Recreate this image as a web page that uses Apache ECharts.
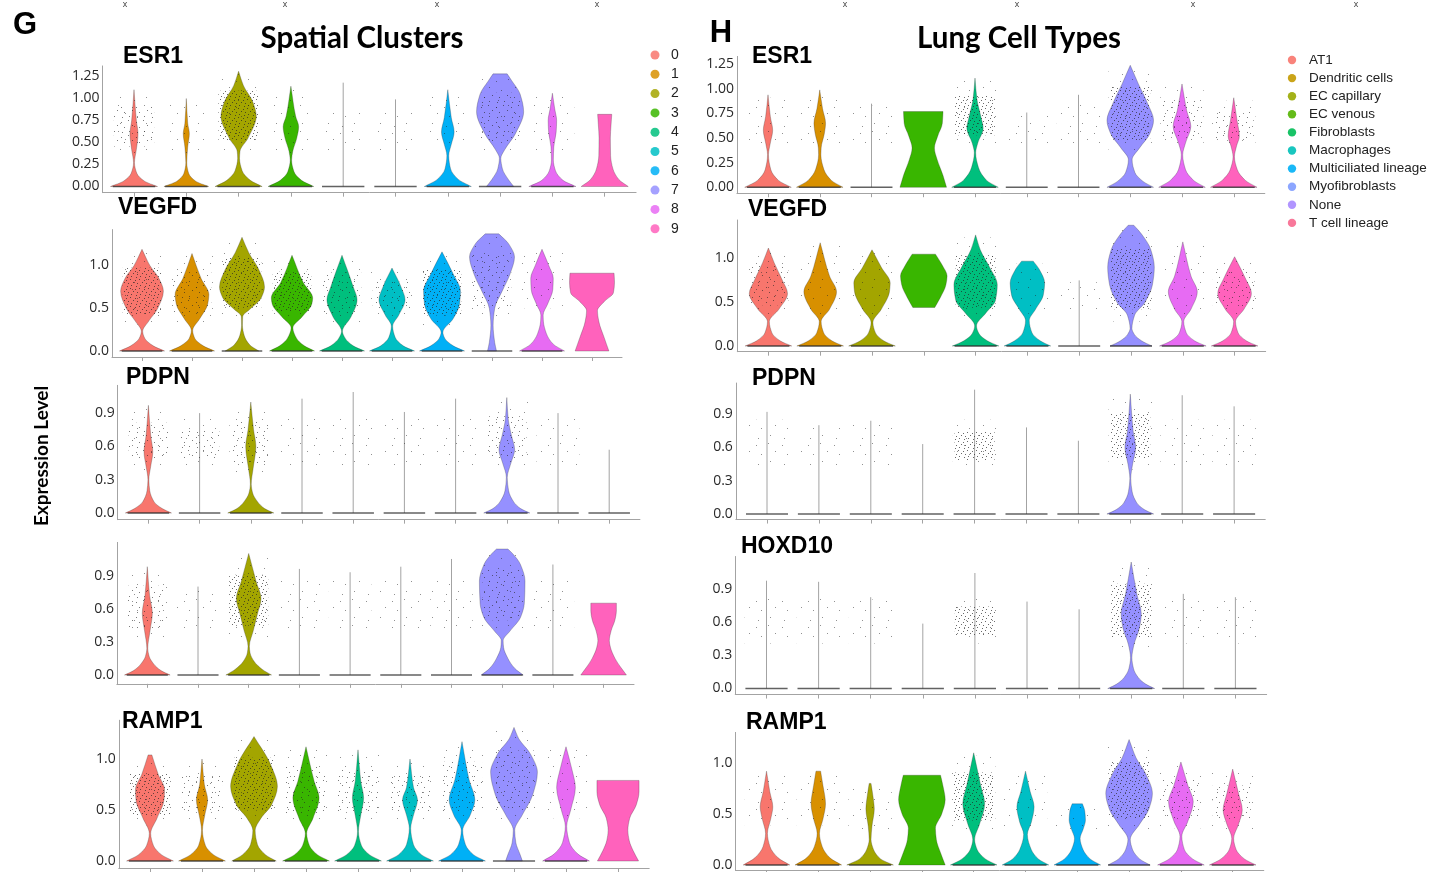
<!DOCTYPE html>
<html>
<head>
<meta charset="utf-8">
<title>Violin plots</title>
<script src="https://cdn.jsdelivr.net/npm/echarts@6.0.0/dist/echarts.min.js"></script>
<style>
  html, body { margin: 0; padding: 0; background: #fff; }
  #chart { width: 1434px; height: 872px; }
</style>
</head>
<body>
<div id="chart"></div>
<script>
// groups
const CLUSTERS = ['0', '1', '2', '3', '4', '5', '6', '7', '8', '9'];
const CELL_TYPES = ['AT1', 'Dendritic cells', 'EC capillary', 'EC venous', 'Fibroblasts',
  'Macrophages', 'Multiciliated lineage', 'Myofibroblasts', 'None', 'T cell lineage'];
const VIOLIN_COLORS = ['#F8766D', '#D89000', '#A3A500', '#39B600', '#00BF7D',
  '#00BFC4', '#00B0F6', '#9590FF', '#E76BF3', '#FF62BC'];
const CELL_LEGEND_COLORS = ['#F8766D', '#C49A00', '#99A800', '#53B400', '#00BC56',
  '#00C0B8', '#00B0F6', '#7F9CFF', '#A98AFF', '#F7698F'];

// y-axis ticks
const TICKS_QUARTER = [0, 0.25, 0.5, 0.75, 1, 1.25];
const TICKS_HALF = [0, 0.5, 1];
const TICKS_03 = [0, 0.3, 0.6, 0.9];

// violins: knots [expression, relative half width] from bottom to top,
// or a single number = top of a violin that is only a bare line
const G_ESR1 = [
  [[0, 1], [0.06, 0.45], [0.15, 0.12], [0.27, 0.02], [0.42, 0.1], [0.6, 0.17], [0.75, 0.1], [1.1, 0]],
  [[0, 0.95], [0.06, 0.4], [0.15, 0.1], [0.27, 0.02], [0.45, 0.06], [0.6, 0.13], [0.72, 0.06], [1.0, 0]],
  [[0, 1], [0.07, 0.5], [0.18, 0.15], [0.32, 0.04], [0.4, 0.06], [0.55, 0.4], [0.8, 0.75], [0.95, 0.62], [1.15, 0.2], [1.31, 0]],
  [[0, 0.97], [0.07, 0.45], [0.17, 0.13], [0.3, 0.03], [0.4, 0.08], [0.55, 0.25], [0.68, 0.33], [0.8, 0.2], [1.14, 0]],
  1.18,
  0.99,
  [[0, 1], [0.08, 0.45], [0.2, 0.12], [0.35, 0.04], [0.48, 0.15], [0.62, 0.27], [0.78, 0.15], [1.1, 0]],
  [[0, 0.58], [0.08, 0.35], [0.2, 0.1], [0.32, 0.03], [0.42, 0.2], [0.6, 0.65], [0.85, 1], [1.05, 0.85], [1.2, 0.5], [1.28, 0.3]],
  [[0, 1], [0.07, 0.45], [0.18, 0.13], [0.3, 0.04], [0.45, 0.06], [0.62, 0.16], [0.75, 0.18], [0.88, 0.1], [1.06, 0]],
  [[0, 1], [0.08, 0.6], [0.2, 0.35], [0.35, 0.25], [0.55, 0.24], [0.7, 0.27], [0.82, 0.3]]
];
const G_ESR1_DOTS = [2, 1, 3, 1, 1, 1, 1, 2, 1, 0];

const G_VEGFD = [
  [[0, 1], [0.06, 0.5], [0.15, 0.12], [0.23, 0.03], [0.35, 0.3], [0.5, 0.7], [0.7, 0.95], [0.85, 0.75], [1.0, 0.35], [1.19, 0]],
  [[0, 1], [0.06, 0.5], [0.15, 0.12], [0.24, 0.03], [0.38, 0.35], [0.55, 0.7], [0.66, 0.75], [0.85, 0.4], [1.14, 0]],
  [[0, 0.75], [0.07, 0.35], [0.18, 0.1], [0.3, 0.02], [0.4, 0.03], [0.5, 0.4], [0.62, 0.85], [0.75, 1], [0.95, 0.75], [1.15, 0.3], [1.33, 0]],
  [[0, 1], [0.06, 0.55], [0.15, 0.2], [0.27, 0.04], [0.4, 0.45], [0.55, 0.88], [0.62, 0.92], [0.8, 0.5], [1.12, 0]],
  [[0, 1], [0.06, 0.5], [0.15, 0.14], [0.23, 0.02], [0.4, 0.4], [0.6, 0.67], [0.75, 0.5], [1.12, 0]],
  [[0, 1], [0.06, 0.5], [0.16, 0.14], [0.29, 0.03], [0.42, 0.3], [0.6, 0.58], [0.75, 0.4], [0.97, 0]],
  [[0, 1], [0.06, 0.5], [0.15, 0.12], [0.22, 0.04], [0.38, 0.5], [0.55, 0.78], [0.7, 0.82], [0.9, 0.5], [1.16, 0]],
  [[0, 0.2], [0.1, 0.12], [0.3, 0.05], [0.5, 0.12], [0.7, 0.45], [0.9, 0.8], [1.1, 1], [1.25, 0.75], [1.37, 0.3]],
  [[0, 1], [0.08, 0.5], [0.2, 0.2], [0.35, 0.06], [0.42, 0.05], [0.55, 0.25], [0.72, 0.48], [0.85, 0.5], [1.0, 0.3], [1.19, 0]],
  [[0, 0.75], [0.15, 0.55], [0.35, 0.3], [0.47, 0.24], [0.58, 0.55], [0.68, 0.95], [0.8, 1], [0.91, 0.98]]
];
const G_VEGFD_DOTS = [3, 2, 3, 3, 2, 2, 3, 2, 1, 0];

const G_PDPN = [
  [[0, 1], [0.04, 0.6], [0.1, 0.25], [0.2, 0.06], [0.3, 0.02], [0.42, 0.1], [0.55, 0.19], [0.7, 0.1], [0.97, 0]],
  0.9,
  [[0, 1], [0.04, 0.6], [0.1, 0.3], [0.18, 0.08], [0.26, 0.02], [0.4, 0.1], [0.6, 0.22], [0.75, 0.12], [1.0, 0]],
  1.03,
  1.09,
  0.91,
  1.03,
  [[0, 1], [0.04, 0.6], [0.1, 0.3], [0.2, 0.08], [0.32, 0.02], [0.45, 0.18], [0.57, 0.34], [0.7, 0.2], [0.85, 0.06], [1.04, 0]],
  0.9,
  0.57
];
const G_PDPN_DOTS = [2, 2, 2, 1, 1, 1, 1, 2, 1, 0];

const G_ROW4 = [
  [[0, 1], [0.04, 0.6], [0.1, 0.28], [0.17, 0.08], [0.24, 0.02], [0.4, 0.12], [0.56, 0.22], [0.72, 0.1], [0.98, 0]],
  0.8,
  [[0, 1], [0.05, 0.6], [0.12, 0.25], [0.2, 0.06], [0.26, 0.03], [0.4, 0.2], [0.55, 0.38], [0.69, 0.54], [0.85, 0.32], [1.1, 0]],
  0.96,
  0.93,
  0.98,
  1.05,
  [[0, 0.92], [0.06, 0.55], [0.15, 0.25], [0.25, 0.06], [0.31, 0.04], [0.4, 0.35], [0.52, 0.8], [0.65, 0.97], [0.85, 1], [1.0, 0.8], [1.1, 0.45], [1.14, 0.25]],
  1.0,
  [[0, 1], [0.07, 0.75], [0.15, 0.5], [0.25, 0.3], [0.31, 0.25], [0.4, 0.33], [0.5, 0.5], [0.58, 0.56], [0.65, 0.56]]
];
const G_ROW4_DOTS = [2, 1, 3, 1, 1, 1, 1, 2, 1, 0];

const G_RAMP1 = [
  [[0, 1], [0.06, 0.5], [0.15, 0.15], [0.27, 0.03], [0.42, 0.3], [0.6, 0.6], [0.7, 0.62], [0.85, 0.35], [1.04, 0.08]],
  [[0, 1], [0.06, 0.5], [0.15, 0.15], [0.3, 0.02], [0.45, 0.12], [0.6, 0.24], [0.75, 0.1], [1.0, 0]],
  [[0, 0.95], [0.06, 0.5], [0.16, 0.15], [0.3, 0.05], [0.42, 0.3], [0.55, 0.75], [0.73, 1], [0.95, 0.7], [1.22, 0]],
  [[0, 1], [0.06, 0.5], [0.15, 0.15], [0.27, 0.03], [0.42, 0.3], [0.62, 0.56], [0.78, 0.35], [1.12, 0]],
  [[0, 1], [0.06, 0.5], [0.15, 0.15], [0.29, 0.02], [0.45, 0.12], [0.62, 0.24], [0.78, 0.12], [1.09, 0]],
  [[0, 1], [0.06, 0.5], [0.16, 0.15], [0.32, 0.03], [0.45, 0.15], [0.6, 0.32], [0.72, 0.15], [1.0, 0]],
  [[0, 1], [0.06, 0.5], [0.16, 0.15], [0.3, 0.03], [0.45, 0.35], [0.6, 0.55], [0.8, 0.3], [1.17, 0]],
  [[0, 0.36], [0.07, 0.25], [0.18, 0.08], [0.3, 0.03], [0.45, 0.35], [0.65, 0.8], [0.87, 1], [1.05, 0.7], [1.2, 0.2], [1.31, 0]],
  [[0, 1], [0.07, 0.5], [0.18, 0.15], [0.34, 0.03], [0.5, 0.2], [0.72, 0.4], [0.9, 0.25], [1.12, 0]],
  [[0, 0.88], [0.1, 0.65], [0.2, 0.48], [0.3, 0.42], [0.42, 0.5], [0.55, 0.78], [0.68, 0.9], [0.79, 0.9]]
];
const G_RAMP1_DOTS = [3, 2, 3, 2, 2, 2, 2, 2, 1, 0];

const H_ESR1 = [
  [[0, 1], [0.07, 0.45], [0.18, 0.12], [0.33, 0.02], [0.45, 0.1], [0.58, 0.2], [0.72, 0.1], [0.94, 0]],
  [[0, 1], [0.07, 0.5], [0.18, 0.18], [0.33, 0.05], [0.4, 0.06], [0.55, 0.2], [0.65, 0.25], [0.8, 0.12], [0.99, 0]],
  0.85,
  [[0, 1], [0.12, 0.85], [0.28, 0.6], [0.4, 0.48], [0.52, 0.62], [0.65, 0.82], [0.77, 0.85]],
  [[0, 1], [0.07, 0.5], [0.2, 0.15], [0.35, 0.03], [0.45, 0.12], [0.6, 0.35], [0.72, 0.25], [0.9, 0.08], [1.11, 0]],
  0.76,
  0.94,
  [[0, 1], [0.06, 0.55], [0.15, 0.2], [0.28, 0.08], [0.4, 0.4], [0.55, 0.85], [0.68, 1], [0.85, 0.75], [1.05, 0.35], [1.24, 0]],
  [[0, 1], [0.07, 0.5], [0.18, 0.15], [0.33, 0.03], [0.45, 0.15], [0.62, 0.38], [0.78, 0.2], [1.05, 0]],
  [[0, 1], [0.07, 0.5], [0.18, 0.15], [0.31, 0.03], [0.42, 0.12], [0.52, 0.24], [0.68, 0.14], [0.91, 0]]
];
const H_ESR1_DOTS = [1, 1, 1, 0, 3, 1, 1, 3, 2, 2];

const H_VEGFD = [
  [[0, 1], [0.06, 0.5], [0.15, 0.15], [0.28, 0.04], [0.42, 0.45], [0.6, 0.82], [0.75, 0.6], [0.95, 0.25], [1.12, 0]],
  [[0, 1], [0.06, 0.5], [0.15, 0.15], [0.28, 0.04], [0.42, 0.4], [0.62, 0.7], [0.8, 0.4], [1.18, 0]],
  [[0, 1], [0.06, 0.5], [0.15, 0.15], [0.27, 0.04], [0.42, 0.4], [0.62, 0.75], [0.72, 0.78], [0.9, 0.4], [1.1, 0]],
  [[0.44, 0.47], [0.55, 0.7], [0.7, 0.95], [0.8, 1], [0.92, 0.8], [1.05, 0.5]],
  [[0, 1], [0.06, 0.5], [0.14, 0.15], [0.23, 0.04], [0.38, 0.45], [0.52, 0.85], [0.7, 0.93], [0.9, 0.6], [1.1, 0.2], [1.27, 0]],
  [[0, 1], [0.06, 0.55], [0.15, 0.2], [0.29, 0.08], [0.42, 0.35], [0.58, 0.68], [0.72, 0.74], [0.88, 0.5], [0.97, 0.25]],
  0.75,
  [[0, 0.9], [0.06, 0.45], [0.13, 0.15], [0.2, 0.04], [0.35, 0.15], [0.5, 0.6], [0.7, 0.92], [0.9, 1], [1.1, 0.85], [1.28, 0.45], [1.38, 0.12]],
  [[0, 1], [0.06, 0.5], [0.15, 0.15], [0.28, 0.04], [0.42, 0.35], [0.62, 0.62], [0.8, 0.35], [1.19, 0]],
  [[0, 1], [0.06, 0.5], [0.15, 0.15], [0.28, 0.04], [0.42, 0.4], [0.6, 0.72], [0.78, 0.45], [1.02, 0]]
];
const H_VEGFD_DOTS = [2, 1, 1, 0, 3, 1, 1, 3, 1, 2];

const H_PDPN = [
  0.92, 0.8, 0.84, 0.63, 1.12, 0.78, 0.66,
  [[0, 1], [0.04, 0.6], [0.1, 0.28], [0.2, 0.08], [0.32, 0.02], [0.45, 0.1], [0.6, 0.23], [0.75, 0.12], [1.08, 0]],
  1.07, 0.97
];
const H_PDPN_DOTS = [1, 1, 1, 0, 3, 0, 0, 3, 1, 1];

const H_HOXD10 = [
  0.98, 0.97, 0.83, 0.59, 1.05, 0.79, 0.72,
  [[0, 1], [0.04, 0.62], [0.1, 0.3], [0.18, 0.1], [0.28, 0.03], [0.4, 0.12], [0.55, 0.35], [0.68, 0.43], [0.85, 0.25], [1.15, 0]],
  0.86, 0.83
];
const H_HOXD10_DOTS = [1, 1, 1, 0, 3, 0, 0, 3, 1, 1];

const H_RAMP1 = [
  [[0, 1], [0.07, 0.5], [0.18, 0.15], [0.31, 0.04], [0.45, 0.18], [0.57, 0.27], [0.72, 0.14], [0.92, 0]],
  [[0, 1], [0.07, 0.5], [0.18, 0.17], [0.31, 0.05], [0.45, 0.2], [0.6, 0.31], [0.78, 0.2], [0.92, 0.1]],
  [[0, 1], [0.06, 0.45], [0.15, 0.15], [0.25, 0.04], [0.38, 0.08], [0.55, 0.18], [0.68, 0.12], [0.8, 0.04]],
  [[0, 1], [0.12, 0.8], [0.25, 0.62], [0.36, 0.58], [0.5, 0.85], [0.64, 1], [0.78, 0.9], [0.88, 0.8]],
  [[0, 1], [0.06, 0.5], [0.15, 0.15], [0.25, 0.04], [0.4, 0.25], [0.6, 0.47], [0.78, 0.3], [1.1, 0]],
  [[0, 1], [0.06, 0.55], [0.15, 0.25], [0.3, 0.08], [0.42, 0.25], [0.57, 0.37], [0.72, 0.2], [0.92, 0]],
  [[0, 1], [0.06, 0.55], [0.15, 0.25], [0.26, 0.12], [0.35, 0.25], [0.44, 0.35], [0.53, 0.32], [0.6, 0.22]],
  [[0, 0.9], [0.06, 0.45], [0.15, 0.15], [0.25, 0.05], [0.4, 0.45], [0.55, 0.85], [0.7, 1], [0.9, 0.7], [1.05, 0.3], [1.23, 0]],
  [[0, 1], [0.06, 0.5], [0.15, 0.15], [0.28, 0.04], [0.43, 0.3], [0.62, 0.53], [0.78, 0.3], [1.01, 0]],
  [[0, 1], [0.06, 0.5], [0.15, 0.15], [0.26, 0.04], [0.4, 0.25], [0.54, 0.41], [0.7, 0.25], [0.94, 0]]
];
const H_RAMP1_DOTS = [1, 1, 1, 0, 3, 1, 1, 3, 2, 2];

// one row of violins per gene; y0 = pixel of 0, ppu = pixels per unit, c0 = centre of first violin, s = spacing
const ROWS = [
  { gene: 'ESR1', lab: [123, 57], violins: G_ESR1, dots: G_ESR1_DOTS, ticks: TICKS_QUARTER, digits: 2, y0: 186.5, ppu: 88, yMin: -0.07, yMax: 1.37, c0: 134, s: 52.3 },
  { gene: 'VEGFD', lab: [118, 208], violins: G_VEGFD, dots: G_VEGFD_DOTS, ticks: TICKS_HALF, digits: 1, y0: 351, ppu: 85.5, yMin: -0.07, yMax: 1.42, c0: 142, s: 50 },
  { gene: 'PDPN', lab: [126, 378], violins: G_PDPN, dots: G_PDPN_DOTS, ticks: TICKS_03, digits: 1, y0: 513, ppu: 111, yMin: -0.06, yMax: 1.15, c0: 148.4, s: 51.2 },
  { gene: '', lab: [0, 0], violins: G_ROW4, dots: G_ROW4_DOTS, ticks: TICKS_03, digits: 1, y0: 675, ppu: 110.5, yMin: -0.08, yMax: 1.2, c0: 147.3, s: 50.7 },
  { gene: 'RAMP1', lab: [122, 722], violins: G_RAMP1, dots: G_RAMP1_DOTS, ticks: TICKS_HALF, digits: 1, y0: 861, ppu: 102, yMin: -0.07, yMax: 1.38, c0: 150, s: 52 },
  { gene: 'ESR1', lab: [752, 57], violins: H_ESR1, dots: H_ESR1_DOTS, ticks: TICKS_QUARTER, digits: 2, y0: 187.3, ppu: 98.4, yMin: -0.06, yMax: 1.33, c0: 768, s: 51.75 },
  { gene: 'VEGFD', lab: [748, 210], violins: H_VEGFD, dots: H_VEGFD_DOTS, ticks: TICKS_HALF, digits: 1, y0: 346, ppu: 87.5, yMin: -0.065, yMax: 1.44, c0: 768.4, s: 51.8 },
  { gene: 'PDPN', lab: [752, 379], violins: H_PDPN, dots: H_PDPN_DOTS, ticks: TICKS_03, digits: 1, y0: 514, ppu: 111, yMin: -0.05, yMax: 1.18, c0: 767, s: 51.9 },
  { gene: 'HOXD10', lab: [741, 547], violins: H_HOXD10, dots: H_HOXD10_DOTS, ticks: TICKS_03, digits: 1, y0: 688.5, ppu: 110, yMin: -0.055, yMax: 1.2, c0: 766.5, s: 52.1 },
  { gene: 'RAMP1', lab: [746, 723], violins: H_RAMP1, dots: H_RAMP1_DOTS, ticks: TICKS_HALF, digits: 1, y0: 865, ppu: 102, yMin: -0.05, yMax: 1.3, c0: 766.5, s: 51.8 }
];

const AXIS_GREY = '#a3a3a3';
const LABEL_FONT = '"Open Sans", "DejaVu Sans", sans-serif';

// jitter texture tiles (sparse / medium / dense)
function dotTile(size, alpha) {
  const c = document.createElement('canvas');
  c.width = size; c.height = size;
  const g = c.getContext('2d');
  g.fillStyle = 'rgba(35,35,35,' + alpha + ')';
  [[0.08, 0.15], [0.55, 0.04], [0.3, 0.47], [0.82, 0.36], [0.63, 0.74], [0.16, 0.86]].forEach(p => {
    g.fillRect(Math.floor(p[0] * size), Math.floor(p[1] * size), 1, 1);
  });
  return { type: 'pattern', image: c, repeat: 'repeat' };
}
const PATTERNS = [null, dotTile(26, 0.5), dotTile(15, 0.6), dotTile(9, 0.68)];

// smooth outline through the knots (monotone cubic, drawn as bezier segments)
function violinPath(knots, cx, hw, yPx) {
  const n = knots.length;
  const ys = knots.map(k => k[0]);
  const ws = knots.map(k => k[1]);
  const h = [], d = [];
  for (let k = 0; k < n - 1; k++) {
    h[k] = ys[k + 1] - ys[k];
    d[k] = (ws[k + 1] - ws[k]) / h[k];
  }
  const m = [];
  m[0] = d[0];
  m[n - 1] = d[n - 2];
  for (let k = 1; k < n - 1; k++) {
    if (d[k - 1] * d[k] <= 0) m[k] = 0;
    else m[k] = 3 * (h[k - 1] + h[k]) / ((2 * h[k] + h[k - 1]) / d[k - 1] + (h[k] + 2 * h[k - 1]) / d[k]);
  }
  const pt = (y, w, side) => (cx + side * Math.max(w, 0) * hw).toFixed(2) + ' ' + yPx(y).toFixed(2);
  const segs = [];
  for (let k = 0; k < n - 1; k++) {
    segs.push([ys[k], ws[k], ys[k] + h[k] / 3, ws[k] + m[k] * h[k] / 3,
      ys[k + 1] - h[k] / 3, ws[k + 1] - m[k + 1] * h[k] / 3, ys[k + 1], ws[k + 1]]);
  }
  let p = 'M' + pt(ys[0], ws[0], 1);
  segs.forEach(sg => { p += 'C' + pt(sg[2], sg[3], 1) + ' ' + pt(sg[4], sg[5], 1) + ' ' + pt(sg[6], sg[7], 1); });
  p += 'L' + pt(ys[n - 1], ws[n - 1], -1);
  for (let k = segs.length - 1; k >= 0; k--) {
    const sg = segs[k];
    p += 'C' + pt(sg[4], sg[5], -1) + ' ' + pt(sg[2], sg[3], -1) + ' ' + pt(sg[0], sg[1], -1);
  }
  return p + 'Z';
}

function cloudRect(cx, hw, yPx, lo, hi, pattern) {
  return { type: 'rect',
    shape: { x: cx - 0.93 * hw, y: yPx(hi), width: 1.86 * hw, height: yPx(lo) - yPx(hi) },
    style: { fill: pattern } };
}

function makeRender(row) {
  return function (params, api) {
    const i = api.value(0);
    const v = row.violins[i];
    const dens = row.dots[i];
    const cx = api.coord([i, 0])[0];
    const hw = api.size([1, 0])[0] * 0.45;
    const yPx = val => api.coord([i, val])[1];
    const flat = typeof v === 'number';
    const children = [];
    let lo, hi;
    if (flat) {
      // empty group: thin line up to the max value
      children.push({ type: 'line', shape: { x1: cx, y1: yPx(0), x2: cx, y2: yPx(v) },
        style: { stroke: '#8c8c8c', lineWidth: 0.8 } });
      lo = 0.45; hi = Math.min(v - 0.05, 0.82);
    } else {
      children.push({ type: 'path', shape: { pathData: violinPath(v, cx, hw, yPx) },
        style: { fill: VIOLIN_COLORS[i], stroke: 'rgba(40,40,40,0.45)', lineWidth: 0.6 } });
      // jittered cells sit above the neck, up to the top
      let neck = v[0][0], nw = 9;
      const top = v[v.length - 1][0];
      v.forEach(k => { if (k[0] > 0.12 && k[0] < top - 0.15 && k[1] < nw) { nw = k[1]; neck = k[0]; } });
      lo = neck + 0.12; hi = top - 0.06;
    }
    if (dens > 0 && hi > lo) {
      // sparse fringe, denser core
      children.push(cloudRect(cx, hw, yPx, lo - 0.04, hi + 0.03, PATTERNS[1]));
      if (dens > 1) {
        const pad = (hi - lo) * 0.2;
        children.push(cloudRect(cx, hw * 0.92, yPx, lo + pad * 0.5, hi - pad, PATTERNS[dens]));
      }
    }
    // cells with zero expression pile up on the baseline
    if (flat || (dens > 0 && v[0][0] === 0)) {
      children.push({ type: 'line', shape: { x1: cx - 0.9 * hw, y1: yPx(0), x2: cx + 0.9 * hw, y2: yPx(0) },
        style: { stroke: 'rgba(45,45,45,0.75)', lineWidth: 1.4 } });
    }
    return { type: 'group', children: children };
  };
}

const grids = [], xAxes = [], yAxes = [], series = [];
ROWS.forEach((row, k) => {
  grids.push({
    left: row.c0 - 0.6 * row.s,
    width: 10.2 * row.s,
    top: row.y0 - row.yMax * row.ppu,
    height: (row.yMax - row.yMin) * row.ppu
  });
  xAxes.push({
    gridIndex: k, type: 'value', min: -0.6, max: 9.6,
    axisLine: { show: true, onZero: false, lineStyle: { color: AXIS_GREY, width: 1 } },
    axisTick: { show: true, length: 4, customValues: CLUSTERS.map((c, i) => i), lineStyle: { color: AXIS_GREY } },
    axisLabel: { show: false },
    splitLine: { show: false }
  });
  yAxes.push({
    gridIndex: k, type: 'value', min: row.yMin, max: row.yMax,
    axisLine: { show: true, onZero: false, lineStyle: { color: AXIS_GREY, width: 1 } },
    axisTick: { show: false },
    axisLabel: {
      customValues: row.ticks, margin: 3, fontSize: 14, color: '#2a2a2a', fontFamily: LABEL_FONT,
      formatter: val => val.toFixed(row.digits)
    },
    splitLine: { show: false }
  });
  series.push({
    type: 'custom', xAxisIndex: k, yAxisIndex: k, silent: true, clip: false,
    data: CLUSTERS.map((c, i) => [i, 0]),
    renderItem: makeRender(row)
  });
});

// texts, panel letters and legends
const graphics = [];
const txt = (x, y, text, style) => graphics.push({ type: 'text', x: x, y: y,
  style: Object.assign({ text: text, fill: '#000', verticalAlign: 'middle' }, style) });

txt(25, 25, 'G', { fontSize: 31, fontWeight: 'bold', fontFamily: 'Liberation Sans', align: 'center' });
txt(721, 33, 'H', { fontSize: 31, fontWeight: 'bold', fontFamily: 'Liberation Sans', align: 'center' });
txt(362, 38, 'Spatial Clusters', { fontSize: 29.5, fontWeight: 'bold', fontFamily: 'Lato', align: 'center' });
txt(1019, 38, 'Lung Cell Types', { fontSize: 29.5, fontWeight: 'bold', fontFamily: 'Lato', align: 'center' });
[125, 285, 437, 597, 845, 1017, 1193, 1356].forEach(x => txt(x, 5, 'x', { fontSize: 9, fill: '#444', align: 'center' }));
ROWS.forEach(row => {
  if (row.gene) txt(row.lab[0], row.lab[1], row.gene, { fontSize: 23, fontWeight: 'bold', fontFamily: 'Liberation Sans' });
});
graphics.push({ type: 'text', x: 42, y: 456, rotation: Math.PI / 2,
  style: { text: 'Expression Level', fontSize: 19, fontWeight: 'bold', fontFamily: 'Lato',
    fill: '#000', align: 'center', verticalAlign: 'middle' } });

CLUSTERS.forEach((name, i) => {
  const y = 55 + i * 19.3;
  graphics.push({ type: 'circle', shape: { cx: 655, cy: y, r: 4.5 }, style: { fill: VIOLIN_COLORS[i], opacity: 0.85 } });
  txt(671, y, name, { fontSize: 14, fontFamily: 'Liberation Sans', fill: '#222' });
});
CELL_TYPES.forEach((name, i) => {
  const y = 60 + i * 18.1;
  graphics.push({ type: 'circle', shape: { cx: 1292, cy: y, r: 4.2 }, style: { fill: CELL_LEGEND_COLORS[i], opacity: 0.9 } });
  txt(1309, y, name, { fontSize: 13.5, fontFamily: 'Liberation Sans', fill: '#222' });
});

const chart = echarts.init(document.getElementById('chart'));
chart.setOption({
  backgroundColor: '#fff',
  animation: false,
  grid: grids,
  xAxis: xAxes,
  yAxis: yAxes,
  series: series,
  graphic: graphics
});
</script>
</body>
</html>
